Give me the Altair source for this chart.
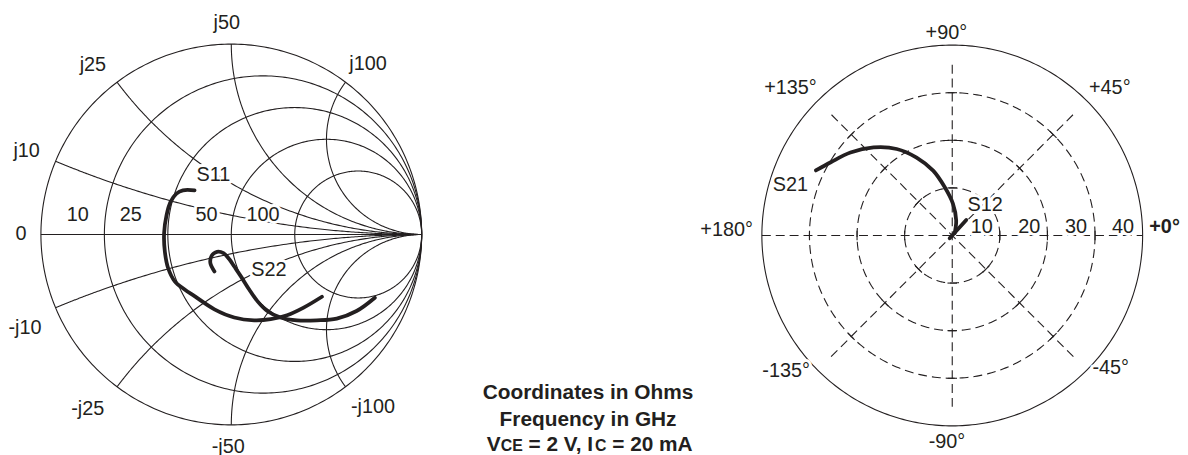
import altair as alt
import numpy as np
import pandas as pd

FONT = "Liberation Sans"
INK = "#231f20"

# ---------------- data ----------------
# Smith chart: reflection coefficients (real, imaginary)
s11_re = [-0.193, -0.254, -0.288, -0.319, -0.340, -0.353, -0.349, -0.332, -0.297, -0.245,
          -0.193, -0.0885, 0.0156, 0.120, 0.207, 0.293, 0.380, 0.476]
s11_im = [0.232, 0.232, 0.215, 0.171, 0.102, 0.006, -0.090, -0.176, -0.246, -0.289,
          -0.324, -0.393, -0.436, -0.451, -0.445, -0.424, -0.384, -0.327]
s22_re = [-0.0885, -0.110, -0.103, -0.075, -0.041, -0.011, 0.0156, 0.0505, 0.094, 0.137,
          0.189, 0.259, 0.345, 0.449, 0.554, 0.658, 0.754]
s22_im = [-0.194, -0.150, -0.112, -0.091, -0.098, -0.129, -0.168, -0.220, -0.289, -0.350,
          -0.402, -0.436, -0.451, -0.451, -0.442, -0.402, -0.332]

# Polar chart: magnitude and angle (degrees)
s21_mag = [31.75, 29.8, 27.6, 24.8, 21.6, 18.0, 14.2, 10.3, 6.7, 3.3, 0.7]
s21_ang = [154.5, 148.9, 140.8, 131.8, 122.7, 114.6, 106.4, 98.9, 88.8, 75.5, 42.5]
s12_mag = [0.8, 4.4]
s12_ang = [-133, 48]

# Smith grid values (normalised to 50 ohm)
smith_r_values = [0, 0.2, 0.5, 1, 2]
smith_x_values = [0.2, 0.5, 1, 2, -0.2, -0.5, -1, -2]

smith_label_text = ["j50", "j25", "j100", "j10", "0", "-j10", "-j25", "-j100", "-j50",
                    "10", "25", "50", "100", "S11", "S22"]
smith_label_re = [-0.024, -0.727, 0.718, -1.075, -1.105, -1.084, -0.754, 0.744, -0.016,
                  -0.806, -0.528, -0.130, 0.167, -0.094, 0.197]
smith_label_im = [1.110, 0.890, 0.896, 0.436, 0.003, -0.492, -0.918, -0.909, -1.117,
                  0.104, 0.104, 0.104, 0.104, 0.310, -0.185]

# Polar grid values
polar_rings = [10, 20, 30]
polar_outer = 40
polar_angles = [0, 45, 90, 135, 180, 225, 270, 315]
polar_label_text = ["+90°", "+135°", "+45°", "-135°", "-45°", "-90°", "+180°",
                    "10", "20", "30", "40", "S21", "S12"]
polar_label_x = [-1.23, -34.0, 33.1, -34.9, 33.3, -1.10, -47.4,
                 6.2, 16.2, 26.0, 35.9, -34.0, 6.9]
polar_label_y = [42.6, 30.9, 31.0, -28.4, -27.8, -43.5, 1.04,
                 1.83, 1.83, 1.83, 1.83, 10.5, 6.35]
bold_label_text = ["+0°"]
bold_label_x = [41.4]
bold_label_y = [1.77]

# ---------------- geometry of the grids ----------------
rows = []
gid = 0
theta = np.linspace(0, 2 * np.pi, 361)
for r in smith_r_values:
    c, rad = r / (1 + r), 1 / (1 + r)
    for k, t in enumerate(theta):
        rows.append((gid, k, c + rad * np.cos(t), rad * np.sin(t)))
    gid += 1
rs = np.concatenate([[0.0], np.logspace(-3, 4, 500)])
for xv in smith_x_values:
    z = rs + 1j * xv
    g = (z - 1) / (z + 1)
    for k, gg in enumerate(g):
        rows.append((gid, k, gg.real, gg.imag))
    gid += 1
rows.append((gid, 0, -1.0, 0.0))
rows.append((gid, 1, 1.0, 0.0))
smith_grid = pd.DataFrame(rows, columns=["id", "t", "x", "y"])

curves = pd.concat([
    pd.DataFrame({"s": "S11", "t": range(len(s11_re)), "x": s11_re, "y": s11_im}),
    pd.DataFrame({"s": "S22", "t": range(len(s22_re)), "x": s22_re, "y": s22_im}),
])

smith_labels = pd.DataFrame({"label": smith_label_text, "x": smith_label_re, "y": smith_label_im})

# polar grid
dash_rows, solid_rows = [], []
gid = 0
for rr in polar_rings:
    for k, t in enumerate(theta):
        dash_rows.append((gid, k, rr * np.cos(t), rr * np.sin(t)))
    gid += 1
for k, t in enumerate(theta):
    solid_rows.append((gid, k, polar_outer * np.cos(t), polar_outer * np.sin(t)))
gid += 1
dash_rows.append((gid, 0, -polar_outer, 0.0))
dash_rows.append((gid, 1, polar_outer, 0.0))
gid += 1
for a in [45, 90, 135]:
    ar = np.radians(a)
    L = 36.0
    dash_rows.append((gid, 0, -L * np.cos(ar), -L * np.sin(ar)))
    dash_rows.append((gid, 1, L * np.cos(ar), L * np.sin(ar)))
    gid += 1
for a in polar_angles:
    ar = np.radians(a)
    for rr in polar_rings:
        cx, cy = rr * np.cos(ar), rr * np.sin(ar)
        px, py = -np.sin(ar), np.cos(ar)
        solid_rows.append((gid, 0, cx - 1.0 * px, cy - 1.0 * py))
        solid_rows.append((gid, 1, cx + 1.0 * px, cy + 1.0 * py))
        gid += 1
polar_dash = pd.DataFrame(dash_rows, columns=["id", "t", "x", "y"])
polar_solid = pd.DataFrame(solid_rows, columns=["id", "t", "x", "y"])

polar_curves = pd.concat([
    pd.DataFrame({"s": "S21", "t": range(len(s21_mag)), "mag": s21_mag, "ang": s21_ang}),
    pd.DataFrame({"s": "S12", "t": range(len(s12_mag)), "mag": s12_mag, "ang": s12_ang}),
])
polar_labels = pd.DataFrame({"label": polar_label_text, "x": polar_label_x, "y": polar_label_y})
bold_labels = pd.DataFrame({"label": bold_label_text, "x": bold_label_x, "y": bold_label_y})

# ---------------- layout ----------------
W1, W2, H = 732, 440, 447
SMITH_X = [-1.16771, 2.64479]
SMITH_Y = [-1.14844, 1.17969]
POLAR_X = [-45.6875, 45.979]
POLAR_Y = [-45.729, 47.396]


def xy(dx, dy):
    return dict(
        x=alt.X("x:Q", scale=alt.Scale(domain=dx, nice=False, zero=False), axis=None),
        y=alt.Y("y:Q", scale=alt.Scale(domain=dy, nice=False, zero=False), axis=None),
    )


def texts(df, dx, dy, size=20, weight="normal", align="center", halo=True):
    layers = []
    if halo:
        layers.append(alt.Chart(df).mark_text(
            font=FONT, fontSize=size, fontWeight=weight, align=align, baseline="middle",
            color="white", stroke="white", strokeWidth=6, strokeJoin="round"
        ).encode(text="label:N", **xy(dx, dy)))
    layers.append(alt.Chart(df).mark_text(
        font=FONT, fontSize=size, fontWeight=weight, align=align, baseline="middle", color=INK
    ).encode(text="label:N", **xy(dx, dy)))
    return layers


smith_grid_layer = alt.Chart(smith_grid).mark_line(color=INK, strokeWidth=1.1).encode(
    detail="id:N", order="t:Q", **xy(SMITH_X, SMITH_Y))
smith_curve_layer = alt.Chart(curves).mark_line(
    color=INK, strokeWidth=3.8, strokeCap="round", strokeJoin="round", interpolate="catmull-rom"
).encode(detail="s:N", order="t:Q", **xy(SMITH_X, SMITH_Y))

# footnote (three lines, with small-capital subscripts on the third)
note_rows = [
    ("Coordinates in Ohms", 584, 392.7, 21, "center"),
    ("Frequency in GHz", 584, 419.7, 21, "center"),
    ("V", 481.9, 445.3, 21, "left"),
    ("CE", 495.9, 445.3, 16, "left"),
    ("= 2 V, I", 523.9, 445.3, 21, "left"),
    ("C", 591.0, 445.3, 16, "left"),
    ("= 20 mA", 608.4, 445.3, 21, "left"),
]
note_layers = []
for txt, px, py, fs, al in note_rows:
    note_layers.append(alt.Chart(pd.DataFrame({"label": [txt]})).mark_text(
        font=FONT, fontSize=fs, fontWeight="bold", align=al, baseline="alphabetic", color=INK
    ).encode(text="label:N", x=alt.value(px), y=alt.value(py)))

smith = alt.layer(
    smith_grid_layer,
    *texts(smith_labels, SMITH_X, SMITH_Y),
    smith_curve_layer,
    *note_layers,
).properties(width=W1, height=H)

polar_dash_layer = alt.Chart(polar_dash).mark_line(
    color=INK, strokeWidth=1.1, strokeDash=[9, 5]
).encode(detail="id:N", order="t:Q", **xy(POLAR_X, POLAR_Y))
polar_solid_layer = alt.Chart(polar_solid).mark_line(color=INK, strokeWidth=1.1).encode(
    detail="id:N", order="t:Q", **xy(POLAR_X, POLAR_Y))
polar_curve_layer = alt.Chart(polar_curves).transform_calculate(
    x="datum.mag * cos(datum.ang * PI / 180)",
    y="datum.mag * sin(datum.ang * PI / 180)",
).mark_line(
    color=INK, strokeWidth=3.8, strokeCap="round", strokeJoin="round", interpolate="catmull-rom"
).encode(detail="s:N", order="t:Q", **xy(POLAR_X, POLAR_Y))

polar = alt.layer(
    polar_dash_layer,
    polar_solid_layer,
    *texts(polar_labels, POLAR_X, POLAR_Y),
    *texts(bold_labels, POLAR_X, POLAR_Y, weight="bold", align="left", halo=False),
    polar_curve_layer,
).properties(width=W2, height=H)

chart = alt.hconcat(smith, polar, spacing=0, bounds="flush").properties(
    padding=0
).configure_view(stroke=None)

chart.save("out.html", embed_options={"renderer": "svg", "actions": False})
